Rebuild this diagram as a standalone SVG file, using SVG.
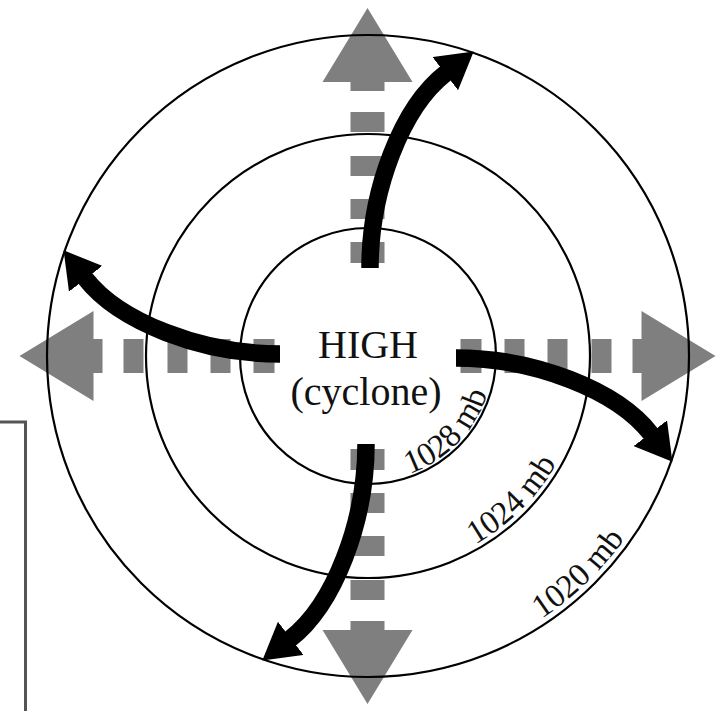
<svg xmlns="http://www.w3.org/2000/svg" width="718" height="711" viewBox="0 0 718 711">
  <style>
    .isobar { fill: none; stroke: #000; stroke-width: 2.2; }
    .flow { fill: #7f7f7f; stroke: none; }
    .wind { fill: none; stroke: #000; stroke-width: 17.5; stroke-linecap: butt; marker-end: url(#head); }
    .label { font-family: "Liberation Serif", "Times New Roman", serif; fill: #111; }
    .mb { font-family: "Liberation Serif", "Times New Roman", serif; font-size: 33px; fill: #111; }
    .frame { fill: none; stroke: #555; stroke-width: 3; }
  </style>
  <defs>
    <marker id="head" markerUnits="userSpaceOnUse" viewBox="0 0 36 42" refX="1" refY="21" markerWidth="36" markerHeight="42" orient="auto">
      <path d="M0,0 L36,21 L0,42 z" fill="#000"/>
    </marker>
    <path id="grayArrow" d="M93,-17 h21 v34 h-21 z M137,-17 h20 v34 h-20 z M180,-17 h20 v34 h-20 z M224,-17 h20 v34 h-20 z M265,-17 h9 v-28 L348,0 L274,45 v-28 h-9 z"/>
    <path id="arc1028" d="M370.2,481 A125,125 0 0 0 493,353.8"/>
    <path id="arc1024" d="M368,573 A217,217 0 0 0 585,356"/>
    <path id="arc1020" d="M444.2,661.6 A315,315 0 0 0 670.8,442.8"/>
  </defs>
  <rect width="718" height="711" fill="#fff"/>

  <g id="frame">
    <path class="frame" d="M0,422 H25.5 V711"/>
  </g>

  <g id="outflow">
    <use href="#grayArrow" class="flow" transform="translate(367.5,356) rotate(0)"/>
    <use href="#grayArrow" class="flow" transform="translate(367.5,356) rotate(90)"/>
    <use href="#grayArrow" class="flow" transform="translate(367.5,356) rotate(180)"/>
    <use href="#grayArrow" class="flow" transform="translate(367.5,356) rotate(270)"/>
  </g>

  <g id="isobar-1020">
    <circle class="isobar" cx="368" cy="356" r="321"/>
    <text class="mb"><textPath href="#arc1020" startOffset="50%" text-anchor="middle">1020 mb</textPath></text>
  </g>
  <g id="isobar-1024">
    <circle class="isobar" cx="368" cy="356" r="222"/>
    <text class="mb"><textPath href="#arc1024" startOffset="50%" text-anchor="middle">1024 mb</textPath></text>
  </g>
  <g id="isobar-1028">
    <circle class="isobar" cx="368" cy="356" r="128"/>
    <text class="mb"><textPath href="#arc1028" startOffset="50%" text-anchor="middle">1028 mb</textPath></text>
  </g>

  <g id="high-center">
    <text class="label" x="368" y="358" font-size="40" text-anchor="middle">HIGH</text>
    <text class="label" x="366" y="405" font-size="40" text-anchor="middle">(cyclone)</text>
  </g>

  <g id="connectors">
    <path class="wind" d="M370,268 C370,190 402,107 446,73"/>
    <path class="wind" d="M370,268 C370,190 402,107 446,73" transform="rotate(90 368 356)"/>
    <path class="wind" d="M370,268 C370,190 402,107 446,73" transform="rotate(180 368 356)"/>
    <path class="wind" d="M370,268 C370,190 402,107 446,73" transform="rotate(270 368 356)"/>
  </g>
</svg>
